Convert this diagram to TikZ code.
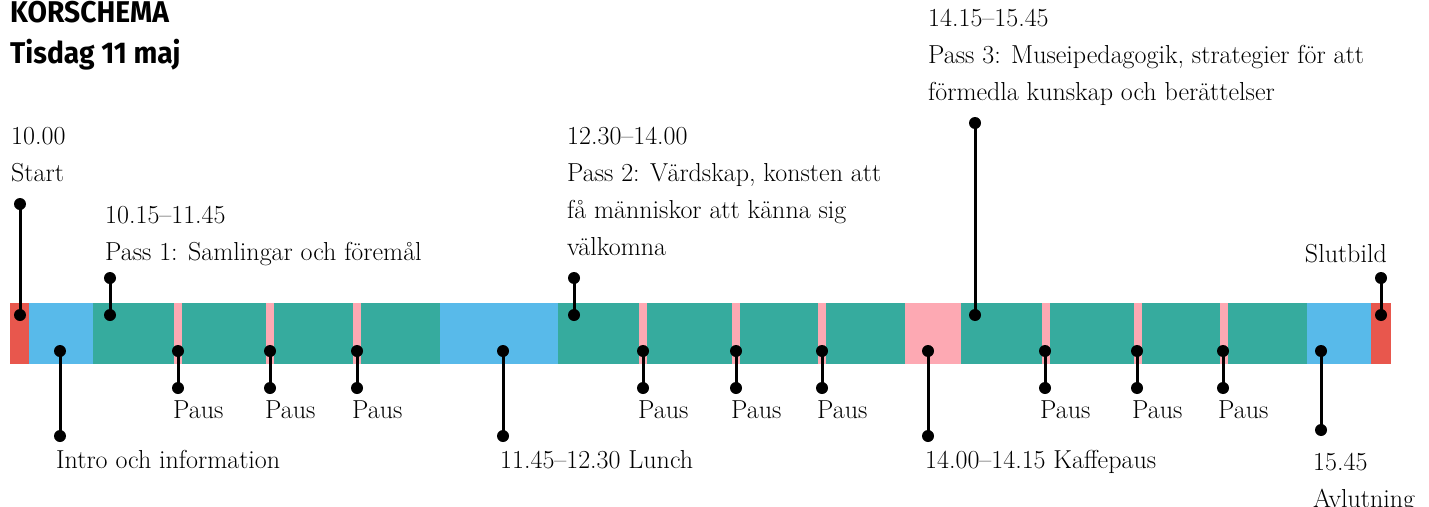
\documentclass[tikz,border=0pt]{standalone}
\usepackage{fontspec}
\newfontfamily\titlefont[FakeStretch=0.94]{Fira Sans}
\definecolor{cred}{HTML}{E8574D}
\definecolor{cblue}{HTML}{58BAEA}
\definecolor{cteal}{HTML}{36AB9E}
\definecolor{cpink}{HTML}{FDA9B3}
\tikzset{
  lbl/.style={anchor=base west, inner sep=0pt, font=\fontsize{26}{37}\selectfont, align=left},
  ttl/.style={anchor=base west, inner sep=0pt, font=\titlefont\bfseries\fontsize{30}{40}\selectfont},
  dot/.style={circle, fill=black, inner sep=0pt, minimum size=12pt},
  stem/.style={line width=3pt, black},
}
\newcommand{\seg}[3]{\fill[#1] (#2,303) rectangle (#3,364);}
\begin{document}
\begin{tikzpicture}[x=1pt,y=-1pt]
\useasboundingbox (0,0) rectangle (1429,506);
% bar segments
\seg{cred}{10}{29}
\seg{cblue}{29}{93}
\seg{cteal}{93}{174}
\seg{cpink}{174}{182}
\seg{cteal}{182}{266}
\seg{cpink}{266}{274}
\seg{cteal}{274}{353}
\seg{cpink}{353}{361}
\seg{cteal}{361}{440}
\seg{cblue}{440}{558}
\seg{cteal}{558}{639}
\seg{cpink}{639}{647}
\seg{cteal}{647}{732}
\seg{cpink}{732}{740}
\seg{cteal}{740}{818}
\seg{cpink}{818}{826}
\seg{cteal}{826}{905}
\seg{cpink}{905}{961}
\seg{cteal}{961}{1042}
\seg{cpink}{1042}{1050}
\seg{cteal}{1050}{1134}
\seg{cpink}{1134}{1142}
\seg{cteal}{1142}{1220}
\seg{cpink}{1220}{1228}
\seg{cteal}{1228}{1307}
\seg{cblue}{1307}{1371}
\seg{cred}{1371}{1391}
% title
\node[ttl] (t1) at (10,23) {KORSCHEMA};
\node[ttl] (t2) at (10,63) {Tisdag 11 maj};
% upper connectors
\foreach \n/\x/\yt in {start/20/204, pa/110/278, pb/574/278, pc/975/123, slut/1381/278}{
  \node[dot] (\n-t) at (\x,\yt) {};
  \node[dot] (\n-b) at (\x,315) {};
  \draw[stem] (\n-t.center) -- (\n-b.center);
}
% lower connectors
\foreach \n/\x/\yb in {intro/60/436, p1/178/388, p2/270/388, p3/357/388, lunch/503/436, p4/643/388, p5/736/388, p6/822/388, kaffe/928/436, p7/1045/388, p8/1137/388, p9/1223/388, avl/1321/430}{
  \node[dot] (\n-t) at (\x,351) {};
  \node[dot] (\n-b) at (\x,\yb) {};
  \draw[stem] (\n-t.center) -- (\n-b.center);
}
% labels (anchor at baseline of last line)
\node[lbl] (lstart) at (11,181) {10.00\\Start};
\node[lbl] (lpa) at (105,260) {10.15--11.45\\Pass 1: Samlingar och föremål};
\node[lbl] (lpb) at (567,255) {12.30--14.00\\Pass 2: Värdskap, konsten att\\få människor att känna sig\\välkomna};
\node[lbl] (lpc) at (928,100) {14.15--15.45\\Pass 3: Museipedagogik, strategier för att\\förmedla kunskap och berättelser};
\node[lbl, anchor=base east] (lslut) at (1387,262) {Slutbild};
\foreach \n/\x in {p1/173, p2/265, p3/352, p4/638, p5/731, p6/817, p7/1040, p8/1132, p9/1218}{
  \node[lbl] (l\n) at (\x,418) {Paus};
}
\node[lbl] (lintro) at (56,468) {Intro och information};
\node[lbl] (llunch) at (500,468) {11.45--12.30 Lunch};
\node[lbl] (lkaffe) at (925,468) {14.00--14.15 Kaffepaus};
\node[lbl] (lavl) at (1313,507) {15.45\\Avlutning};
\end{tikzpicture}
\end{document}
